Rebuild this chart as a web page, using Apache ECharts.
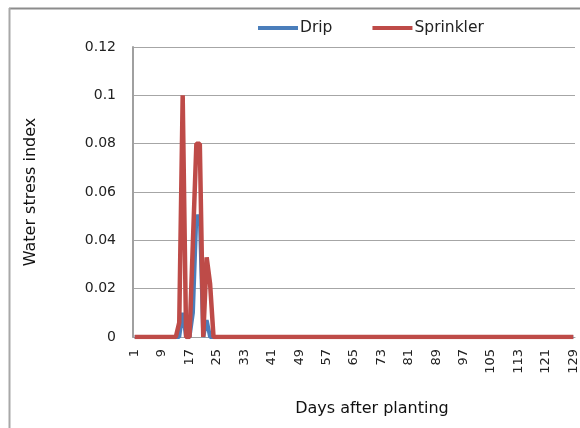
<!DOCTYPE html>
<html>
<head>
<meta charset="utf-8">
<script src="https://cdn.jsdelivr.net/npm/echarts@6/dist/echarts.min.js"></script>
<style>html,body{margin:0;padding:0;background:#fff;}#c{width:580px;height:428px;}</style>
</head>
<body>
<div id="c"></div>
<script>
// Days after planting 1..129
var days = [];
for (var d = 1; d <= 129; d++) days.push(String(d));

// Non-zero readings (day -> value); every other day is 0
var dripDays   = [15,   18,   19,   20,   22];
var dripVals   = [0.01, 0.01, 0.05, 0.05, 0.007];
var sprinklerDays = [14,    15,  18,   19,   20,   22,    23];
var sprinklerVals = [0.006, 0.1, 0.04, 0.08, 0.08, 0.033, 0.022];

var yTicks = [0, 0.02, 0.04, 0.06, 0.08, 0.1, 0.12];

function build(ds, vs) {
  var out = days.map(function(){ return 0; });
  for (var i = 0; i < ds.length; i++) out[ds[i] - 1] = vs[i];
  return out;
}
var drip = build(dripDays, dripVals);
var sprinkler = build(sprinklerDays, sprinklerVals);

var chart = echarts.init(document.getElementById('c'));
chart.setOption({
  animation: false,
  backgroundColor: '#fff',
  graphic: [
    {type: 'line', shape: {x1: 9, y1: 8.5, x2: 580, y2: 8.5}, style: {stroke: '#8c8c8c', lineWidth: 2}},
    {type: 'line', shape: {x1: 9.5, y1: 8, x2: 9.5, y2: 428}, style: {stroke: '#a8a8a8', lineWidth: 2}}
  ],
  legend: {
    top: 15, left: 253,
    itemWidth: 40, itemHeight: 4, itemGap: 40,
    icon: 'rect',
    textStyle: {fontFamily: 'DejaVu Sans', fontSize: 15.5, color: '#222', padding: [0,0,0,-3]},
    data: ['Drip', 'Sprinkler']
  },
  grid: {left: 133, top: 47, width: 442, bottom: 91},
  xAxis: {
    type: 'category',
    data: days,
    boundaryGap: true,
    name: 'Days after planting',
    nameLocation: 'middle',
    nameGap: 64,
    nameTextStyle: {fontFamily: 'DejaVu Sans', fontSize: 16, color: '#111', padding: [0,0,0,36]},
    axisLine: {show: true, lineStyle: {color: '#a0a0a0', width: 1}},
    axisTick: {show: false},
    axisLabel: {interval: 7, rotate: 90, fontFamily: 'DejaVu Sans', fontSize: 13, color: '#222', margin: 12},
    splitLine: {show: false}
  },
  yAxis: {
    type: 'value',
    min: 0, max: 0.12, interval: 0.02,
    name: 'Water stress index',
    nameLocation: 'middle',
    nameGap: 94,
    nameTextStyle: {fontFamily: 'DejaVu Sans', fontSize: 16, color: '#111'},
    axisLine: {show: true, lineStyle: {color: '#a0a0a0', width: 2}},
    axisTick: {show: false},
    axisLabel: {
      fontFamily: 'DejaVu Sans', fontSize: 14, color: '#222', margin: 17,
      formatter: function(v){ var t = yTicks.filter(function(x){return Math.abs(x-v)<1e-9;}); return t.length ? String(t[0]) : ''; }
    },
    splitLine: {show: true, lineStyle: {color: '#a6a6a6', width: 1}}
  },
  series: [
    {name: 'Drip', type: 'line', data: drip, symbol: 'none', color: '#4a7ebb', lineStyle: {width: 4, color: '#4a7ebb'}, z: 2},
    {name: 'Sprinkler', type: 'line', data: sprinkler, symbol: 'none', color: '#be4b48', lineStyle: {width: 4.5, color: '#be4b48'}, z: 3}
  ]
});
</script>
</body>
</html>
